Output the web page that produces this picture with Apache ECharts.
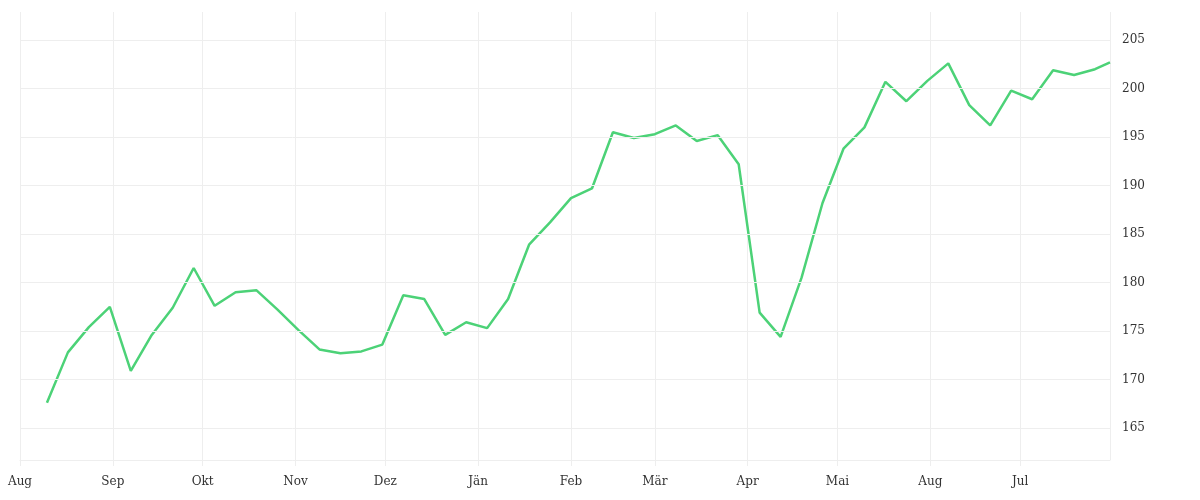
<!DOCTYPE html>
<html><head><meta charset="utf-8">
<script src="https://cdn.jsdelivr.net/npm/echarts@6/dist/echarts.min.js"></script>
<style>html,body{margin:0;padding:0;background:#fff}#c{width:1200px;height:500px}</style>
</head><body><div id="c"></div>
<script>
const dates = ["2022-08-10","2022-08-17","2022-08-24","2022-08-31","2022-09-07","2022-09-14","2022-09-21","2022-09-28",
"2022-10-05","2022-10-12","2022-10-19","2022-10-26","2022-11-02","2022-11-09","2022-11-16","2022-11-23","2022-11-30",
"2022-12-07","2022-12-14","2022-12-21","2022-12-28","2023-01-04","2023-01-11","2023-01-18","2023-01-25",
"2023-02-01","2023-02-08","2023-02-15","2023-02-22","2023-03-01","2023-03-08","2023-03-15","2023-03-22","2023-03-29",
"2023-04-05","2023-04-12","2023-04-19","2023-04-26","2023-05-03","2023-05-10","2023-05-17","2023-05-24","2023-05-31",
"2023-06-07","2023-06-14","2023-06-21","2023-06-28","2023-07-05","2023-07-12","2023-07-19","2023-07-26","2023-07-31"];
const values = [167.6,172.8,175.4,177.5,170.9,174.6,177.4,181.5,177.6,179.0,179.2,177.2,175.1,173.1,172.7,172.9,173.6,
178.7,178.3,174.6,175.9,175.3,178.3,183.9,186.2,188.7,189.7,195.5,194.9,195.3,196.2,194.6,195.2,192.2,
176.9,174.4,180.5,188.2,193.8,196.0,200.7,198.7,200.8,202.6,198.3,196.2,199.8,198.9,201.9,201.4,202.0,202.7];
const monthNames = ["Jän","Feb","Mär","Apr","Mai","Jun","Jul","Aug","Sep","Okt","Nov","Dez"];
const yTicks = [165,170,175,180,185,190,195,200,205];
const font = "'DejaVu Serif', serif";
const chart = echarts.init(document.getElementById('c'));
chart.setOption({
  animation:false,
  grid:{left:20,right:90,top:12,bottom:40},
  xAxis:{type:'time',min:'2022-08-01',max:'2023-07-31',
    minInterval:28*86400000,maxInterval:31*86400000,
    axisLine:{lineStyle:{color:'#eee'}},
    axisTick:{show:true,length:6,lineStyle:{color:'#eee'}},
    splitLine:{show:true,lineStyle:{color:'#eee'}},
    axisLabel:{color:'#333',fontFamily:font,fontSize:12,margin:16,hideOverlap:false,
      formatter:v=>{const d=new Date(v);return d.getDate()===1?monthNames[(d.getMonth()+7)%12===0?7:d.getMonth()]:'';}}},
  yAxis:{type:'value',position:'right',min:161.7,max:207.9,
    splitLine:{show:false},axisLine:{show:false},axisTick:{show:false},
    axisLabel:{customValues:yTicks,color:'#333',fontFamily:font,fontSize:12,margin:12}},
  series:[{type:'line',data:dates.map((d,i)=>[d,values[i]]),showSymbol:false,
    lineStyle:{color:'#4cd277',width:2.5},itemStyle:{color:'#4cd277'},
    markLine:{silent:true,symbol:'none',label:{show:false},lineStyle:{color:'#eee',type:'solid',width:1},
      data:yTicks.map(v=>({yAxis:v}))}}]
});
</script></body></html>
